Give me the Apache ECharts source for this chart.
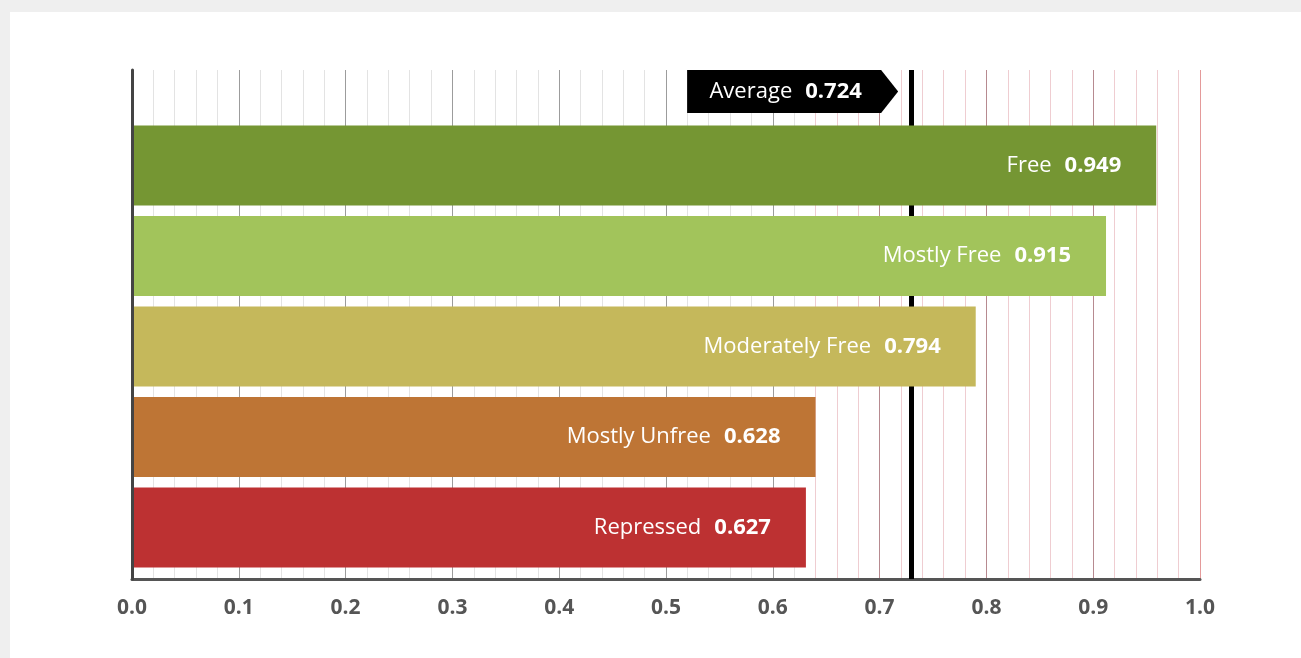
<!DOCTYPE html>
<html>
<head>
<meta charset="utf-8">
<style>
  html, body { margin: 0; padding: 0; background: #efefef; }
  #panel { position: absolute; left: 10px; top: 12px; right: 0; bottom: 0; background: #fff; }
  #chart { position: absolute; left: 0; top: 0; width: 1301px; height: 658px; }
</style>
<script src="https://cdn.jsdelivr.net/npm/echarts@6/dist/echarts.min.js"></script>
</head>
<body>
<div id="panel"></div>
<div id="chart"></div>
<script>
// categories, top to bottom
const categories = ['Free', 'Mostly Free', 'Moderately Free', 'Mostly Unfree', 'Repressed']
// printed scores
const scoreLabels = ['0.949', '0.915', '0.794', '0.628', '0.627']
// bar lengths as drawn in the picture
const barValues = [0.959, 0.912, 0.790, 0.640, 0.631]
const barColors = ['#759633', '#a2c45b', '#c5b85b', '#be7535', '#bd3132']
const averageLabel = '0.724'
const averageLine = 0.730
const xTicks = [0, 0.1, 0.2, 0.3, 0.4, 0.5, 0.6, 0.7, 0.8, 0.9, 1.0]

// vertical grid every 0.02, darker on the tenths, pink to the right
const gridColors = []
for (let i = 0; i <= 50; i++) {
  const major = i % 5 === 0
  const right = i >= 32
  if (i === 50) gridColors.push('#e49a9a')
  else if (right) gridColors.push(major ? '#b78a90' : '#efcdd1')
  else gridColors.push(major ? '#9c9c9c' : '#e3e3e3')
}

const chart = echarts.init(document.getElementById('chart'))

const richText = {
  n: { color: '#fff', fontSize: 22, fontFamily: 'Open Sans', padding: [0, 13, 0, 0] },
  v: { color: '#fff', fontSize: 22, fontFamily: 'Open Sans', fontWeight: 'bold' },
}

const option = {
  animation: false,
  textStyle: { fontFamily: 'Open Sans' },
  grid: { left: 132, right: 101, top: 70, bottom: 79 },
  xAxis: {
    type: 'value',
    min: 0,
    max: 1,
    interval: 0.02,
    axisLine: { show: true, onZero: false, lineStyle: { color: '#555', width: 3 } },
    axisTick: { show: false },
    axisLabel: {
      margin: 19,
      color: '#555',
      fontSize: 21,
      fontWeight: 'bold',
      formatter: v => {
        const t = xTicks.find(x => Math.abs(x - v) < 1e-6)
        return t === undefined ? '' : t.toFixed(1)
      },
    },
    splitLine: { show: true, lineStyle: { color: gridColors, width: 1 } },
  },
  yAxis: {
    type: 'value',
    inverse: true,
    min: -1.055,
    max: 4.569,
    z: 4,
    axisLine: { show: true, onZero: false, lineStyle: { color: '#444', width: 3 } },
    axisTick: { show: false },
    axisLabel: { show: false },
    splitLine: { show: false },
  },
  series: [
    {
      type: 'custom',
      z: 3,
      data: barValues.map((v, i) => [v, i]),
      renderItem: (params, api) => {
        const i = api.value(1)
        const start = api.coord([0, i])
        const end = api.coord([api.value(0), i])
        const h = api.size([0, 1])[1] * 0.884
        return {
          type: 'rect',
          shape: { x: start[0], y: start[1] - h / 2, width: end[0] - start[0], height: h },
          style: { fill: barColors[i] },
          textContent: {
            style: {
              text: `{n|${categories[i]}}{v|${scoreLabels[i]}}`,
              rich: richText,
              fill: '#fff',
            },
          },
          textConfig: { position: 'insideRight', distance: 35, inside: true, insideFill: '#fff', insideStroke: 'transparent' },
        }
      },
      markLine: {
        silent: true,
        z: 1,
        symbol: 'none',
        label: { show: false },
        lineStyle: { color: '#000', width: 5, type: 'solid' },
        data: [{ xAxis: averageLine }],
      },
      markPoint: {
        silent: true,
        z: 5,
        symbol: 'path://M0,0 L194,0 L211,21.5 L194,43 L0,43 Z',
        symbolSize: [211, 43],
        symbolKeepAspect: false,
        symbolOffset: [-119, 0],
        itemStyle: { color: '#000' },
        label: {
          show: true,
          position: 'inside',
          offset: [-7, 0],
          formatter: `{n|Average}{v|${averageLabel}}`,
          rich: {
            n: { color: '#fff', fontSize: 22, fontFamily: 'Open Sans', padding: [0, 13, 0, 0] },
            v: { color: '#fff', fontSize: 22, fontFamily: 'Open Sans', fontWeight: 'bold' },
          },
        },
        data: [{ coord: [averageLine, -0.818] }],
      },
    },
  ],
}

chart.setOption(option)
</script>
</body>
</html>
